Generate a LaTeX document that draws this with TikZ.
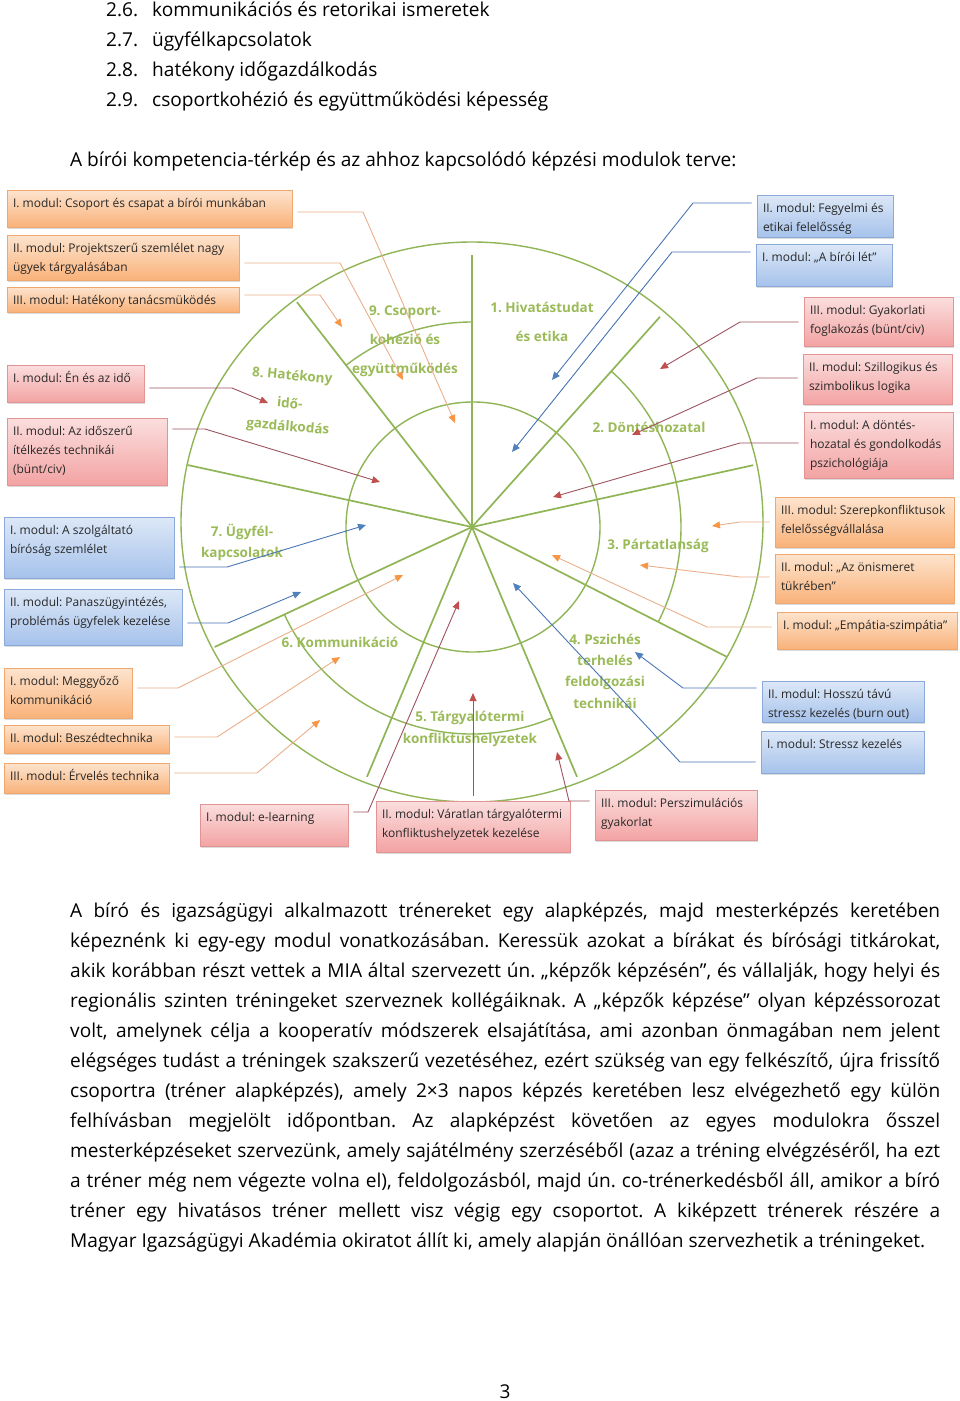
\documentclass[tikz,border=0pt]{standalone}
\usepackage{fontspec}
\setmainfont{Open Sans}
\usetikzlibrary{arrows.meta,shadows}
\frenchspacing

\definecolor{wg}{RGB}{143,181,86}
\definecolor{lg}{RGB}{155,187,89}
\definecolor{oTop}{RGB}{253,228,206}
\definecolor{oBot}{RGB}{249,178,122}
\definecolor{oBd}{RGB}{240,168,110}
\definecolor{rTop}{RGB}{251,222,222}
\definecolor{rBot}{RGB}{243,163,163}
\definecolor{rBd}{RGB}{226,148,148}
\definecolor{bTop}{RGB}{221,232,247}
\definecolor{bBot}{RGB}{166,194,235}
\definecolor{bBd}{RGB}{138,170,218}
\definecolor{oLn}{RGB}{233,176,138}
\definecolor{oTip}{RGB}{247,150,70}
\definecolor{rLn}{RGB}{158,84,96}
\definecolor{rTip}{RGB}{192,80,77}
\definecolor{bLn}{RGB}{74,118,180}
\definecolor{bTip}{RGB}{79,129,189}
\definecolor{txt}{RGB}{40,40,40}

\newcommand\boxtxt[3]{\parbox[c][#2pt][t]{\dimexpr#1pt-12pt\relax}{\raggedright\vspace*{4.5pt}\strut#3}}
\newcommand\jline[1]{\makebox[870pt][s]{#1}}

\tikzset{
  mb/.style={rectangle, draw=#1Bd, top color=#1Top, bottom color=#1Bot, line width=0.6pt,
    inner xsep=6pt, inner ysep=0pt, font=\fontsize{12}{19}\selectfont, text=txt,
    drop shadow={shadow xshift=1.2pt, shadow yshift=-1.6pt, opacity=0.28}},
  co/.style={draw=oLn, line width=0.9pt, shorten <=5pt, -{Triangle[length=8pt,width=7pt,color=oTip]}},
  cr/.style={draw=rLn, line width=0.9pt, shorten <=5pt, -{Triangle[length=8pt,width=7pt,color=rTip]}},
  cb/.style={draw=bLn, line width=0.9pt, shorten <=5pt, -{Triangle[length=8pt,width=7pt,color=bTip]}},
  spoke/.style={draw=wg, line width=1.7pt},
  ring/.style={draw=wg, line width=1.4pt},
  lab/.style={text=lg, font=\fontsize{13.5}{29}\selectfont\bfseries, align=center, inner sep=0pt},
  labt/.style={text=lg, font=\fontsize{13.5}{21.3}\selectfont\bfseries, align=center, inner sep=0pt},
  ptxt/.style={anchor=base west, inner sep=0pt, font=\fontsize{19.1}{30}\selectfont, text=black}
}

\begin{document}
\begin{tikzpicture}[x=1pt,y=-1pt]
\useasboundingbox (0,0) rectangle (960,1401);
\fill[white] (0,0) rectangle (960,1401);

% ---------- text above ----------
\node[ptxt] (n26) at (106,16) {2.6.};
\node[ptxt] (t26) at (152,16) {kommunikációs és retorikai ismeretek};
\node[ptxt] (n27) at (106,46) {2.7.};
\node[ptxt] (t27) at (152,46) {ügyfélkapcsolatok};
\node[ptxt] (n28) at (106,76) {2.8.};
\node[ptxt] (t28) at (152,76) {hatékony időgazdálkodás};
\node[ptxt] (n29) at (106,106) {2.9.};
\node[ptxt] (t29) at (152,106) {csoportkohézió és együttműködési képesség};
\node[ptxt] (title) at (70,166) {A bírói kompetencia-térkép és az ahhoz kapcsolódó képzési modulok terve:};

% ---------- wheel ----------
\coordinate (C) at (472,527);
\draw[ring] (472,522) ellipse [x radius=291, y radius=280];
\draw[ring] (473,527) ellipse [x radius=127, y radius=125];
\draw[ring] (C) ++(-127.9:205) arc[start angle=-127.9, end angle=-90, radius=205];
\draw[ring] (C) ++(-48.2:209) arc[start angle=-48.2, end angle=27, radius=209];
\draw[ring] (C) ++(155:207) arc[start angle=155, end angle=67.2, radius=207];
\foreach \a/\r in {-90/272, -48.2/282, -12.4/288, 27/286, 67.2/271, 112.8/271, 155/284, 192.3/291, -127.9/285}
  \draw[spoke] (C) -- ++(\a:\r);

% ---------- sector labels ----------
\node[lab] (l1) at (542,321.5) {1. Hivatástudat\\és etika};
\node[lab] (l2) at (649,427) {2. Döntéshozatal};
\node[lab] (l3) at (658,546) {3. Pártatlanság};
\node[labt] (l4) at (605,671) {4. Pszichés\\terhelés\\feldolgozási\\technikái};
\node[labt] (l5) at (470,729) {5. Tárgyalótermi\\konfliktushelyzetek};
\node[lab] (l6) at (340,642) {6. Kommunikáció};
\node[labt] (l7) at (242,542.5) {7. Ügyfél-\\kapcsolatok};
\node[lab, font=\fontsize{13.5}{23}\selectfont\bfseries, rotate=-5] (l8) at (290,402) {8. Hatékony\\[5pt]idő-\\gazdálkodás};
\node[lab] (l9) at (405,341) {9. Csoport-\\kohézió és\\együttműködés};

% ---------- module boxes ----------
% sector 9 (orange, top left)
\node[mb=o] (bo1) at (149.5,208.5) {\boxtxt{285}{37}{I. modul: Csoport és csapat a bírói munkában}};
\node[mb=o] (bo2) at (123,257.5) {\boxtxt{232}{45}{II. modul: Projektszerű szemlélet nagy\\ügyek tárgyalásában}};
\node[mb=o] (bo3) at (123,299.5) {\boxtxt{232}{25}{III. modul: Hatékony tanácsmüködés}};
% sector 8 (red, left)
\node[mb=r] (br1) at (75.5,383.5) {\boxtxt{137}{37}{I. modul: Én és az idő}};
\node[mb=r] (br2) at (87,451.5) {\boxtxt{160}{67}{II. modul: Az időszerű\\ítélkezés technikái\\(bünt/civ)}};
% sector 7 (blue, left)
\node[mb=b] (bb1) at (89,547.5) {\boxtxt{170}{61}{I. modul: A szolgáltató\\bíróság szemlélet}};
\node[mb=b] (bb2) at (93,617) {\boxtxt{178}{56}{II. modul: Panaszügyintézés,\\problémás ügyfelek kezelése}};
% sector 6 (orange, left bottom)
\node[mb=o] (bo4) at (68,693) {\boxtxt{128}{50}{I. modul: Meggyőző\\kommunikáció}};
\node[mb=o] (bo5) at (86.5,739) {\boxtxt{165}{28}{II. modul: Beszédtechnika}};
\node[mb=o] (bo6) at (86.5,778) {\boxtxt{165}{30}{III. modul: Érvelés technika}};
% sector 5 (red, bottom)
\node[mb=r] (br3) at (274,825) {\boxtxt{148}{42}{I. modul: e-learning}};
\node[mb=r] (br4) at (473,826.5) {\boxtxt{194}{51}{II. modul: Váratlan tárgyalótermi\\konfliktushelyzetek kezelése}};
\node[mb=r] (br5) at (676,815) {\boxtxt{162}{50}{III. modul: Perszimulációs\\gyakorlat}};
% sector 4 (blue, right bottom)
\node[mb=b] (bb3) at (843,701.5) {\boxtxt{162}{41}{II. modul: Hosszú távú\\stressz kezelés (burn out)}};
\node[mb=b] (bb4) at (842.5,752) {\boxtxt{163}{42}{I. modul: Stressz kezelés}};
% sector 3 (orange, right)
\node[mb=o] (bo7) at (864.5,522) {\boxtxt{179}{50}{III. modul: Szerepkonfliktusok\\felelősségvállalása}};
\node[mb=o] (bo8) at (864.5,578.5) {\boxtxt{179}{49}{II. modul: „Az önismeret\\tükrében”}};
\node[mb=o] (bo9) at (867,630.5) {\boxtxt{180}{37}{I. modul: „Empátia-szimpátia”}};
% sector 2 (red, right)
\node[mb=r] (br6) at (878.5,321.5) {\boxtxt{149}{49}{III. modul: Gyakorlati\\foglakozás (bünt/civ)}};
\node[mb=r] (br7) at (877.5,379) {\boxtxt{149}{50}{II. modul: Szillogikus és\\szimbolikus logika}};
\node[mb=r] (br8) at (878.5,445) {\boxtxt{149}{66}{I. modul: A döntés-\\hozatal és gondolkodás\\pszichológiája}};
% sector 1 (blue, top right)
\node[mb=b] (bb5) at (825,216) {\boxtxt{136}{42}{II. modul: Fegyelmi és\\etikai felelősség}};
\node[mb=b] (bb6) at (824,265) {\boxtxt{136}{42}{I. modul: „A bírói lét”}};

% ---------- connectors ----------
\coordinate (eo1) at (363,212);  \coordinate (to1) at (455,423);
\coordinate (eo2) at (340,263);  \coordinate (to2) at (403,380);
\coordinate (eo3) at (320,295);  \coordinate (to3) at (342,327);
\coordinate (er1) at (232,388);  \coordinate (tr1) at (268,403);
\coordinate (er2) at (205,429);  \coordinate (tr2) at (380,482);
\coordinate (eb1) at (227,567);  \coordinate (tb1) at (366,525);
\coordinate (eb2) at (228,623);  \coordinate (tb2) at (301,592);
\coordinate (eo4) at (178,688);  \coordinate (to4) at (403,575);
\coordinate (eo5) at (217,737);  \coordinate (to5) at (340,657);
\coordinate (eo6) at (257,773);  \coordinate (to6) at (320,720);
\coordinate (er3) at (368,812);  \coordinate (tr3) at (459,601);
\coordinate (tr4) at (473,693);
\coordinate (er5) at (569,801);  \coordinate (tr5) at (557,752);
\coordinate (eb3) at (683,688);  \coordinate (tb3) at (635,652);
\coordinate (eb4) at (680,762);  \coordinate (tb4) at (513,583);
\coordinate (eo7) at (740,522);  \coordinate (to7) at (712,526);
\coordinate (eo8) at (740,577);  \coordinate (to8) at (640,565);
\coordinate (eo9) at (707,627);  \coordinate (to9) at (552,555);
\coordinate (er6) at (740,322);  \coordinate (tr6) at (660,369);
\coordinate (er7) at (757,378);  \coordinate (tr7) at (632,435);
\coordinate (er8) at (740,443);  \coordinate (tr8) at (553,497);
\coordinate (eb5) at (693,203);  \coordinate (tb5) at (552,380);
\coordinate (eb6) at (672,252);  \coordinate (tb6) at (512,452);

\draw[co] (bo1.east |- eo1) -- (eo1) -- (to1);
\draw[co] (bo2.east |- eo2) -- (eo2) -- (to2);
\draw[co] (bo3.east |- eo3) -- (eo3) -- (to3);
\draw[cr] (br1.east |- er1) -- (er1) -- (tr1);
\draw[cr] (br2.east |- er2) -- (er2) -- (tr2);
\draw[cb] (bb1.east |- eb1) -- (eb1) -- (tb1);
\draw[cb] (bb2.east |- eb2) -- (eb2) -- (tb2);
\draw[co] (bo4.east |- eo4) -- (eo4) -- (to4);
\draw[co] (bo5.east |- eo5) -- (eo5) -- (to5);
\draw[co] (bo6.east |- eo6) -- (eo6) -- (to6);
\draw[cr] (br3.east |- er3) -- (er3) -- (tr3);
\draw[cr] (br4.north -| tr4) -- (tr4);
\draw[cr] (br5.west |- er5) -- (er5) -- (tr5);
\draw[cb] (bb3.west |- eb3) -- (eb3) -- (tb3);
\draw[cb] (bb4.west |- eb4) -- (eb4) -- (tb4);
\draw[co] (bo7.west |- eo7) -- (eo7) -- (to7);
\draw[co] (bo8.west |- eo8) -- (eo8) -- (to8);
\draw[co] (bo9.west |- eo9) -- (eo9) -- (to9);
\draw[cr] (br6.west |- er6) -- (er6) -- (tr6);
\draw[cr] (br7.west |- er7) -- (er7) -- (tr7);
\draw[cr] (br8.west |- er8) -- (er8) -- (tr8);
\draw[cb] (bb5.west |- eb5) -- (eb5) -- (tb5);
\draw[cb] (bb6.west |- eb6) -- (eb6) -- (tb6);

% ---------- body text ----------
\node[ptxt] (body) at (70,917) {\parbox[t]{870pt}{%
\jline{A bíró és igazságügyi alkalmazott trénereket egy alapképzés, majd mesterképzés keretében}\\
\jline{képeznénk ki egy-egy modul vonatkozásában. Keressük azokat a bírákat és bírósági titkárokat,}\\
\jline{akik korábban részt vettek a MIA által szervezett ún. „képzők képzésén”, és vállalják, hogy helyi és}\\
\jline{regionális szinten tréningeket szerveznek kollégáiknak. A „képzők képzése” olyan képzéssorozat}\\
\jline{volt, amelynek célja a kooperatív módszerek elsajátítása, ami azonban önmagában nem jelent}\\
\jline{elégséges tudást a tréningek szakszerű vezetéséhez, ezért szükség van egy felkészítő, újra frissítő}\\
\jline{csoportra (tréner alapképzés), amely 2×3 napos képzés keretében lesz elvégezhető egy külön}\\
\jline{felhívásban megjelölt időpontban. Az alapképzést követően az egyes modulokra ősszel}\\
\jline{mesterképzéseket szervezünk, amely sajátélmény szerzéséből (azaz a tréning elvégzéséről, ha ezt}\\
\jline{a tréner még nem végezte volna el), feldolgozásból, majd ún. co-trénerkedésből áll, amikor a bíró}\\
\jline{tréner egy hivatásos tréner mellett visz végig egy csoportot. A kiképzett trénerek részére a}\\
\mbox{Magyar Igazságügyi Akadémia okiratot állít ki, amely alapján önállóan szervezhetik a tréningeket.}}};

\node[anchor=base, inner sep=0pt, font=\fontsize{19}{30}\selectfont] (pnum) at (505,1398) {3};
\end{tikzpicture}
\end{document}
